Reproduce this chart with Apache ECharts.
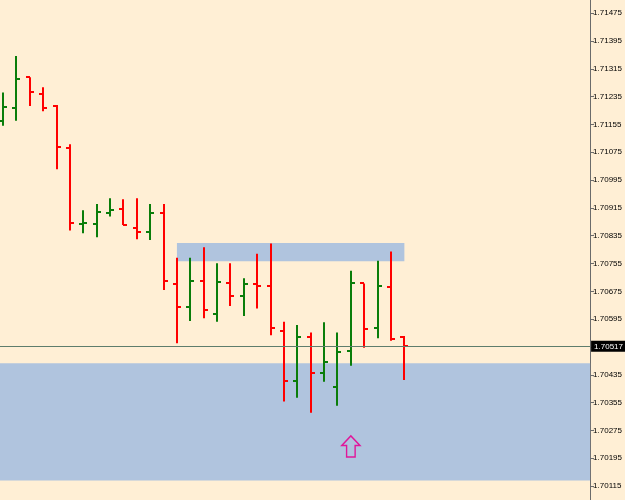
<!DOCTYPE html>
<html>
<head>
<meta charset="utf-8">
<script src="https://cdn.jsdelivr.net/npm/echarts@6/dist/echarts.min.js"></script>
<style>
html,body{margin:0;padding:0;background:#FFEFD5;}
#main{width:625px;height:500px;}
</style>
</head>
<body>
<div id="main"></div>
<script>
// bar data (oldest first)
var opens  = [1.71166,1.71201,1.71291,1.71243,1.71209,1.71087,1.70869,1.70870,1.70901,1.70911,1.70858,1.70846,1.70900,1.70696,1.70631,1.70705,1.70611,1.70700,1.70662,1.70695,1.70690,1.70560,1.70418,1.70543,1.70439,1.70399,1.70504,1.70698,1.70570,1.70688,1.70543];
var highs  = [1.71247,1.71352,1.71291,1.71262,1.71211,1.71098,1.70908,1.70926,1.70943,1.70940,1.70943,1.70926,1.70926,1.70772,1.70772,1.70802,1.70756,1.70756,1.70713,1.70783,1.70813,1.70588,1.70578,1.70557,1.70586,1.70557,1.70734,1.70698,1.70763,1.70790,1.70547];
var lows   = [1.71151,1.71166,1.71208,1.71193,1.71026,1.70850,1.70842,1.70831,1.70890,1.70866,1.70825,1.70823,1.70679,1.70526,1.70590,1.70598,1.70588,1.70633,1.70604,1.70626,1.70549,1.70358,1.70369,1.70326,1.70415,1.70346,1.70461,1.70513,1.70540,1.70533,1.70420];
var closes = [1.71205,1.71287,1.71247,1.71203,1.71089,1.70871,1.70871,1.70903,1.70909,1.70866,1.70846,1.70900,1.70706,1.70630,1.70706,1.70621,1.70703,1.70662,1.70695,1.70691,1.70569,1.70418,1.70543,1.70439,1.70471,1.70501,1.70698,1.70568,1.70691,1.70537,1.70517];

var yTicks = [1.70115,1.70195,1.70275,1.70355,1.70435,1.70515,1.70595,1.70675,1.70755,1.70835,1.70915,1.70995,1.71075,1.71155,1.71235,1.71315,1.71395,1.71475];
var bid = 1.70517;

// zones: [bar from, bar to, price top, price bottom]
var upperZone = [13, 30, 1.70814, 1.70762];
var lowerZone = [1.70468, 1.70131];
var arrowAt = [26, 1.70229];

var bars = [];
for (var i = 0; i < opens.length; i++) {
	bars.push([i, opens[i], highs[i], lows[i], closes[i]]);
}

var chart = echarts.init(document.getElementById("main"));

function renderBar(params, api){
	var x = api.value(0);
	var o = api.coord([x, api.value(1)]);
	var h = api.coord([x, api.value(2)]);
	var l = api.coord([x, api.value(3)]);
	var c = api.coord([x, api.value(4)]);
	var cx = Math.round(o[0]);
	var col = api.value(4) >= api.value(1) ? '#0A7D0A' : '#FF0000';
	var st = {stroke: col, lineWidth: 2};
	return {
		type: 'group',
		children: [
			{type: 'line', shape: {x1: cx, y1: h[1], x2: cx, y2: l[1]}, style: st},
			{type: 'line', shape: {x1: cx - 4, y1: Math.round(o[1]), x2: cx, y2: Math.round(o[1])}, style: st},
			{type: 'line', shape: {x1: cx, y1: Math.round(c[1]), x2: cx + 4, y2: Math.round(c[1])}, style: st}
		]
	};
}

var option = {
	backgroundColor: '#FFEFD5',
	animation: false,
	grid: {left: 0, right: 34, top: 0, bottom: 0},
	xAxis: {
		type: 'value',
		min: -0.224,
		max: 43.88,
		show: false
	},
	yAxis: {
		type: 'value',
		position: 'right',
		min: 1.70075,
		max: 1.71513,
		scale: true,
		splitLine: {show: false},
		axisLine: {show: true, onZero: false, lineStyle: {color: '#6B6B6B', width: 1}},
		axisTick: {show: true, length: 4, customValues: yTicks, lineStyle: {color: '#6B6B6B'}},
		axisLabel: {
			customValues: yTicks,
			margin: 3,
			fontSize: 8,
			fontFamily: 'Liberation Sans',
			color: '#000',
			formatter: function(v){ return v.toFixed(5); }
		}
	},
	series: [
		{
			type: 'custom',
			renderItem: renderBar,
			data: bars,
			clip: false,
			markArea: {
				silent: true,
				itemStyle: {color: '#B0C4DE', opacity: 1},
				data: [
					[{coord: [upperZone[0], upperZone[2]]}, {coord: [upperZone[1], upperZone[3]]}],
					[{yAxis: lowerZone[0]}, {yAxis: lowerZone[1]}]
				]
			},
			markLine: {
				silent: true,
				precision: 5,
				symbol: ['none', 'none'],
				lineStyle: {color: '#5E7D6C', width: 1, type: 'solid'},
				label: {
					show: true,
					position: 'end',
					distance: 1,
					formatter: bid.toFixed(5),
					color: '#fff',
					backgroundColor: '#000',
					padding: [2, 3, 1, 3],
					fontSize: 8,
					fontFamily: 'Liberation Sans'
				},
				data: [{yAxis: bid}]
			},
			markPoint: {
				silent: true,
				symbol: 'path://M9.5,0 L19,10 L14,10 L14,22 L5,22 L5,10 L0,10 Z',
				symbolSize: [18, 21],
				itemStyle: {color: 'transparent', borderColor: '#E0179A', borderWidth: 1.5},
				label: {show: false},
				data: [{coord: arrowAt}]
			}
		}
	]
};

chart.setOption(option);
</script>
</body>
</html>
